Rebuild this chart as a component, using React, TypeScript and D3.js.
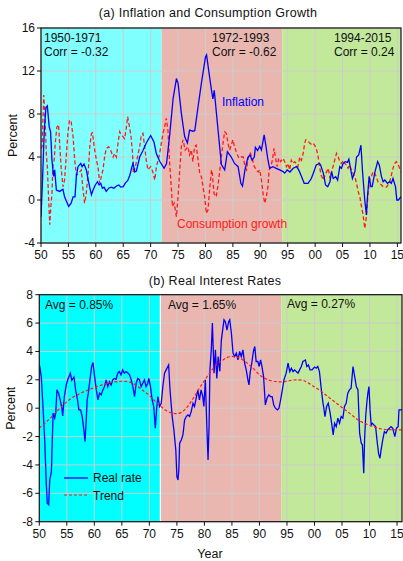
import React from "react";
import * as d3 from "d3";

// ---------- Data ----------
const yearTicks = [1950, 1955, 1960, 1965, 1970, 1975, 1980, 1985, 1990, 1995, 2000, 2005, 2010, 2015];
const topYTicks = [-4, 0, 4, 8, 12, 16];
const botYTicks = [-8, -6, -4, -2, 0, 2, 4, 6, 8];
const eras = [
  { start: 1950, end: 1972, label: "1950-1971", corr: "Corr = -0.32", avg: "Avg = 0.85%" },
  { start: 1972, end: 1994, label: "1972-1993", corr: "Corr = -0.62", avg: "Avg = 1.65%" },
  { start: 1994, end: 2016, label: "1994-2015", corr: "Corr = 0.24", avg: "Avg = 0.27%" },
];

const inflYears = [1950.0, 1950.25, 1950.6, 1950.9, 1951.15, 1951.5, 1951.75, 1952.0, 1952.3, 1952.5, 1952.8, 1953.4, 1954.0, 1954.3, 1955.05, 1955.5, 1955.85, 1956.2, 1956.45, 1956.75, 1957.25, 1957.5, 1957.85, 1958.27, 1958.6, 1958.9, 1959.2, 1959.5, 1959.9, 1960.3, 1960.6, 1960.9, 1961.2, 1961.5, 1961.9, 1962.35, 1962.8, 1963.3, 1963.75, 1964.2, 1964.55, 1965.0, 1965.4, 1965.8, 1966.2, 1966.6, 1966.8, 1967.1, 1967.4, 1968.0, 1968.6, 1969.2, 1970.0, 1970.6, 1971.05, 1971.65, 1972.45, 1972.9, 1973.5, 1974.1, 1974.7, 1975.0, 1975.6, 1976.2, 1976.7, 1977.1, 1977.7, 1978.05, 1978.65, 1979.25, 1980.0, 1980.2, 1980.65, 1981.1, 1981.35, 1981.6, 1982.2, 1982.9, 1983.5, 1984.0, 1984.7, 1985.3, 1985.95, 1986.45, 1986.75, 1987.2, 1987.7, 1988.1, 1988.5, 1988.9, 1989.1, 1989.5, 1989.9, 1990.2, 1990.7, 1991.0, 1991.4, 1991.7, 1992.3, 1992.9, 1993.55, 1994.15, 1994.45, 1994.9, 1995.4, 1996.0, 1996.6, 1997.0, 1997.5, 1998.0, 1998.7, 1999.3, 1999.6, 2000.2, 2000.8, 2001.0, 2001.5, 2001.9, 2002.3, 2002.7, 2003.0, 2003.3, 2003.75, 2004.1, 2004.5, 2004.8, 2005.1, 2005.5, 2005.9, 2006.15, 2006.5, 2006.8, 2007.25, 2007.55, 2007.95, 2008.35, 2008.65, 2009.05, 2009.35, 2009.5, 2009.85, 2010.15, 2010.4, 2010.9, 2011.4, 2011.7, 2012.1, 2012.4, 2012.7, 2013.2, 2013.6, 2013.9, 2014.2, 2014.65, 2014.9, 2015.2, 2015.66];
const inflValues = [-1.55, 1.5, 6.5, 8.6, 8.75, 6.8, 6.35, 3.7, 2.2, 2.8, 0.93, 0.8, 1.0, 0.3, -0.6, -0.3, 0.3, 0.3, 2.2, 3.1, 3.4, 3.1, 3.35, 2.8, 1.9, 1.15, 0.5, 0.93, 1.4, 1.7, 1.4, 1.55, 1.1, 1.2, 0.8, 1.1, 1.2, 1.1, 1.3, 1.4, 1.2, 1.25, 1.6, 1.8, 2.3, 3.1, 3.4, 2.6, 2.7, 4.0, 4.6, 5.3, 6.0, 5.4, 4.3, 3.6, 2.95, 3.4, 6.2, 9.46, 11.3, 10.85, 8.06, 5.9, 5.3, 6.5, 6.4, 6.45, 8.7, 10.85, 13.3, 13.5, 11.8, 10.2, 9.4, 10.2, 7.0, 3.3, 2.8, 4.5, 4.0, 3.4, 3.1, 1.55, 1.3, 2.8, 3.9, 4.2, 3.7, 4.0, 4.9, 4.6, 5.0, 4.65, 6.05, 5.1, 3.7, 2.95, 3.1, 2.95, 2.8, 2.64, 2.5, 2.8, 2.6, 2.95, 3.1, 2.8, 2.2, 1.55, 1.55, 2.0, 2.4, 3.26, 3.4, 3.26, 2.48, 1.4, 1.24, 1.7, 2.64, 2.0, 2.17, 1.86, 3.1, 2.95, 3.4, 3.57, 3.5, 3.8, 2.8, 2.0, 2.64, 4.0, 4.2, 5.1, 2.6, 0.0, -1.4, 0.0, 2.2, 1.24, 1.24, 2.6, 3.57, 3.26, 2.17, 1.7, 1.86, 1.55, 1.7, 1.55, 2.0, 1.24, 0.0, 0.0, 0.3];

const consYears = [1950.0, 1950.2, 1950.5, 1950.7, 1950.8, 1950.97, 1951.15, 1951.4, 1951.6, 1951.8, 1952.0, 1952.2, 1952.4, 1952.6, 1952.9, 1953.2, 1953.4, 1953.7, 1954.0, 1954.3, 1954.6, 1954.9, 1955.2, 1955.5, 1955.85, 1956.15, 1956.45, 1956.9, 1957.35, 1957.6, 1957.95, 1958.25, 1958.6, 1958.9, 1959.2, 1959.4, 1959.7, 1960.1, 1960.4, 1960.7, 1961.0, 1961.3, 1961.6, 1961.9, 1962.35, 1962.7, 1963.15, 1963.45, 1963.75, 1964.05, 1964.35, 1964.65, 1964.95, 1965.25, 1965.55, 1965.8, 1966.1, 1966.4, 1966.7, 1966.85, 1967.2, 1967.6, 1968.0, 1968.3, 1968.6, 1968.9, 1969.2, 1969.5, 1970.0, 1970.4, 1970.75, 1971.05, 1971.35, 1971.65, 1971.95, 1972.25, 1972.55, 1972.85, 1973.15, 1973.5, 1973.8, 1973.97, 1974.3, 1974.7, 1975.0, 1975.3, 1975.6, 1975.9, 1976.3, 1976.8, 1977.1, 1977.4, 1977.7, 1978.0, 1978.3, 1978.65, 1978.95, 1979.25, 1979.55, 1979.85, 1980.15, 1980.45, 1980.8, 1981.1, 1981.25, 1981.55, 1981.95, 1982.25, 1982.55, 1982.9, 1983.2, 1983.5, 1983.8, 1984.1, 1984.4, 1984.7, 1985.0, 1985.3, 1985.6, 1986.1, 1986.45, 1986.9, 1987.2, 1987.5, 1987.8, 1988.2, 1988.6, 1988.9, 1989.3, 1989.6, 1989.9, 1990.2, 1990.5, 1990.8, 1991.1, 1991.4, 1991.6, 1991.9, 1992.2, 1992.5, 1992.75, 1993.05, 1993.35, 1993.7, 1994.15, 1994.45, 1994.75, 1995.05, 1995.35, 1995.65, 1995.95, 1996.25, 1996.55, 1996.85, 1997.2, 1997.5, 1997.8, 1998.1, 1998.3, 1998.7, 1999.0, 1999.3, 1999.6, 1999.9, 2000.2, 2000.5, 2000.8, 2001.1, 2001.5, 2001.8, 2002.1, 2002.4, 2002.7, 2003.1, 2003.5, 2003.9, 2004.2, 2004.5, 2004.8, 2005.1, 2005.4, 2005.7, 2006.0, 2006.3, 2006.6, 2006.9, 2007.25, 2007.55, 2007.85, 2008.15, 2008.45, 2008.75, 2009.05, 2009.35, 2009.65, 2009.95, 2010.25, 2010.55, 2010.85, 2011.15, 2011.45, 2011.75, 2012.1, 2012.4, 2012.7, 2013.0, 2013.3, 2013.6, 2013.9, 2014.2, 2014.5, 2014.8, 2015.1, 2015.6];
const consValues = [4.8, 4.96, 9.77, 8.06, 6.8, 4.34, 3.1, 0.0, -2.3, -0.6, 0.6, 3.4, 3.7, 5.3, 6.8, 7.0, 5.3, 2.8, 1.24, 1.86, 4.0, 6.2, 7.44, 7.3, 5.9, 3.7, 2.3, 2.5, 2.8, 1.24, -0.3, 0.6, 2.5, 4.96, 6.2, 6.25, 4.96, 3.7, 3.1, 1.55, 2.2, 2.8, 4.0, 4.8, 4.96, 4.65, 4.0, 4.34, 4.0, 5.3, 6.35, 6.05, 5.9, 5.7, 6.67, 7.75, 6.9, 6.0, 4.34, 2.48, 3.1, 4.0, 4.96, 6.05, 6.2, 4.96, 3.7, 2.8, 3.1, 2.6, 1.86, 3.1, 3.7, 4.34, 5.3, 6.2, 6.8, 7.6, 6.5, 3.1, 0.93, -0.6, -0.3, -1.55, 0.3, 2.8, 4.96, 5.6, 4.65, 4.96, 4.2, 4.65, 3.57, 4.96, 5.1, 3.7, 2.48, 2.17, 1.24, 0.3, -1.24, -0.93, 1.24, 2.8, 2.48, 0.6, 0.3, 1.24, 2.48, 4.0, 5.3, 6.35, 6.2, 5.3, 4.65, 5.1, 5.6, 4.96, 4.5, 3.88, 4.0, 4.0, 3.1, 2.8, 4.0, 4.34, 3.7, 3.1, 2.8, 2.6, 2.8, 1.86, 0.6, -0.3, 0.3, 1.24, 2.8, 3.1, 3.7, 4.8, 4.0, 3.1, 3.88, 3.57, 3.88, 3.57, 3.1, 3.4, 2.8, 3.7, 3.4, 3.57, 3.4, 3.1, 4.0, 3.7, 4.3, 5.3, 5.6, 5.5, 5.3, 5.2, 5.3, 5.1, 4.8, 4.2, 3.1, 2.3, 1.86, 2.3, 2.64, 2.95, 2.0, 2.8, 3.57, 4.34, 4.03, 3.57, 3.4, 3.7, 3.4, 3.26, 2.95, 3.26, 2.8, 2.48, 2.17, 1.55, 0.8, 0.3, -0.6, -1.4, -2.64, -1.55, 0.6, 1.86, 2.17, 2.64, 2.48, 2.17, 1.7, 1.55, 1.4, 1.24, 1.2, 1.2, 1.4, 1.7, 2.3, 2.95, 3.4, 3.57, 3.4, 2.64];

const realYears = [1950.0, 1950.36, 1950.67, 1950.98, 1951.27, 1951.45, 1951.7, 1951.9, 1952.2, 1952.4, 1952.5, 1952.8, 1953.0, 1953.2, 1953.5, 1953.8, 1954.1, 1954.25, 1954.55, 1954.9, 1955.2, 1955.63, 1955.9, 1956.3, 1956.6, 1956.9, 1957.2, 1957.5, 1957.8, 1958.1, 1958.3, 1958.5, 1958.7, 1958.9, 1959.2, 1959.5, 1959.75, 1960.05, 1960.36, 1960.65, 1960.95, 1961.25, 1961.55, 1961.85, 1962.15, 1962.45, 1962.75, 1963.05, 1963.35, 1963.65, 1963.95, 1964.25, 1964.55, 1964.85, 1965.15, 1965.45, 1965.75, 1966.05, 1966.4, 1966.7, 1967.0, 1967.3, 1967.6, 1967.9, 1968.2, 1968.5, 1968.8, 1969.1, 1969.4, 1969.7, 1969.9, 1970.2, 1970.5, 1970.8, 1971.08, 1971.3, 1971.55, 1971.85, 1972.15, 1972.45, 1972.75, 1973.05, 1973.5, 1973.75, 1973.95, 1974.15, 1974.45, 1974.8, 1975.0, 1975.2, 1975.35, 1975.5, 1975.8, 1976.1, 1976.4, 1976.7, 1977.0, 1977.3, 1977.6, 1977.93, 1978.2, 1978.5, 1978.8, 1979.1, 1979.4, 1979.7, 1979.9, 1980.17, 1980.4, 1980.66, 1980.85, 1981.0, 1981.25, 1981.45, 1981.75, 1982.0, 1982.25, 1982.5, 1982.8, 1983.08, 1983.56, 1983.8, 1984.1, 1984.4, 1984.6, 1984.9, 1985.2, 1985.5, 1985.8, 1986.1, 1986.4, 1986.7, 1987.0, 1987.3, 1987.6, 1987.9, 1988.1, 1988.3, 1988.6, 1988.9, 1989.15, 1989.4, 1989.7, 1989.95, 1990.2, 1990.45, 1990.75, 1991.07, 1991.37, 1991.7, 1992.0, 1992.3, 1992.6, 1992.9, 1993.25, 1993.55, 1993.85, 1994.16, 1994.45, 1994.85, 1995.2, 1995.5, 1995.8, 1996.1, 1996.4, 1996.7, 1997.0, 1997.3, 1997.6, 1997.9, 1998.35, 1998.6, 1998.9, 1999.2, 1999.55, 2000.0, 2000.3, 2000.6, 2000.9, 2001.25, 2001.55, 2001.7, 2001.9, 2002.2, 2002.5, 2002.85, 2003.2, 2003.4, 2003.65, 2003.95, 2004.25, 2004.55, 2004.85, 2005.15, 2005.45, 2005.75, 2006.05, 2006.35, 2006.65, 2007.0, 2007.3, 2007.6, 2007.9, 2008.2, 2008.5, 2008.7, 2008.95, 2009.1, 2009.3, 2009.5, 2009.7, 2009.9, 2010.1, 2010.3, 2010.5, 2010.8, 2011.1, 2011.42, 2011.65, 2011.9, 2012.1, 2012.4, 2012.7, 2013.0, 2013.3, 2013.6, 2013.9, 2014.2, 2014.6, 2014.9, 2015.2, 2015.35, 2015.9];
const realValues = [3.1, 2.23, 0.1, -2.24, -5.3, -6.7, -6.8, -5.06, -4.47, -1.77, -0.35, -0.7, -0.3, 1.29, 1.05, 0.59, 0.0, -0.55, 0.82, 1.64, 2.04, 2.47, 1.97, 2.2, 1.29, 0.7, -0.12, -0.12, -0.59, -1.53, -2.35, -1.06, 0.59, 1.06, 2.0, 2.93, 3.22, 2.23, 1.29, 0.59, 1.06, 0.94, 1.29, 1.52, 2.0, 1.52, 1.87, 1.64, 2.0, 2.1, 2.04, 2.47, 2.58, 2.35, 2.7, 2.47, 2.58, 2.5, 2.35, 2.0, 1.52, 0.82, 1.76, 2.1, 2.0, 1.52, 1.76, 2.0, 1.52, 1.76, 2.1, 1.52, 0.59, 0.12, -1.41, -0.12, 0.82, 0.12, 0.35, 1.52, 2.47, 2.7, 3.05, 1.29, 0.35, -0.59, -1.53, -2.94, -4.82, -5.06, -4.35, -2.47, -2.24, -1.88, -0.82, -0.59, -0.47, -0.59, -0.24, 0.35, 0.12, 0.7, 1.29, 0.59, 1.29, 0.82, 0.12, 2.0, -0.82, -3.65, -1.18, 2.7, 4.11, 6.0, 2.47, 4.11, 2.1, 3.64, 2.6, 4.82, 6.23, 6.1, 5.5, 6.1, 6.23, 5.3, 3.88, 3.64, 3.88, 3.4, 4.0, 3.64, 4.11, 3.17, 2.7, 2.0, 1.64, 2.47, 3.17, 4.0, 4.35, 3.29, 3.29, 2.94, 3.4, 2.94, 2.23, 0.23, 0.7, 0.94, 0.82, 0.82, 0.23, 0.0, -0.12, 0.0, 0.59, 1.29, 2.0, 2.47, 3.17, 2.58, 2.82, 2.58, 2.7, 2.58, 2.47, 2.7, 2.94, 3.29, 3.4, 2.94, 3.05, 2.7, 2.7, 2.9, 2.82, 2.94, 2.58, 1.29, 0.35, 0.0, -0.59, 0.12, 0.35, -0.35, -1.3, -1.88, -1.06, -1.3, -0.7, -1.06, -0.59, -0.7, 0.12, 0.35, 1.06, 1.29, 1.41, 2.94, 2.23, 1.52, 1.29, -1.76, -2.47, -2.58, -4.58, -2.23, -0.59, 0.35, 1.06, 1.52, -0.12, -1.18, -1.06, -1.18, -1.3, -2.47, -3.2, -3.53, -2.94, -2.23, -1.65, -1.76, -1.53, -1.41, -1.3, -1.41, -2.0, -1.41, -1.3, -0.12, -0.12];

const trendYears = [1950, 1951, 1952, 1953, 1954, 1955, 1956, 1957, 1958, 1959, 1960, 1961, 1962, 1963, 1964, 1965, 1966, 1967, 1968, 1969, 1970, 1971, 1972, 1973, 1974, 1975, 1976, 1977, 1978, 1979, 1980, 1981, 1982, 1983, 1984, 1985, 1986, 1987, 1988, 1989, 1990, 1991, 1992, 1993, 1994, 1995, 1996, 1997, 1998, 1999, 2000, 2001, 2002, 2003, 2004, 2005, 2006, 2007, 2008, 2009, 2010, 2011, 2012, 2013, 2014, 2015, 2015.9];
const trendValues = [-1.4, -1.06, -0.7, -0.3, 0.1, 0.45, 0.75, 0.95, 1.15, 1.3, 1.45, 1.6, 1.72, 1.8, 1.87, 1.9, 1.88, 1.75, 1.5, 1.2, 0.9, 0.5, 0.15, -0.15, -0.33, -0.38, -0.25, 0.15, 0.7, 1.35, 1.95, 2.5, 3.0, 3.3, 3.55, 3.65, 3.6, 3.4, 3.1, 2.75, 2.35, 2.1, 1.95, 1.88, 1.85, 1.9, 1.98, 2.0, 1.95, 1.75, 1.5, 1.25, 0.95, 0.65, 0.35, 0.05, -0.25, -0.55, -0.85, -1.05, -1.2, -1.35, -1.45, -1.5, -1.52, -1.53, -1.53];

// ---------- Styling ----------
const FONT = "'Liberation Sans', Arial, Helvetica, sans-serif";
const topColors = ["#80ffff", "#eab7b0", "#c2e99a"];
const botColors = ["#00ffff", "#eab7b0", "#c2e99a"];
const GRID = "#cccccc";

type Pt = [number, number];
const zip = (xs: number[], ys: number[]): Pt[] => xs.map((x, i) => [x, ys[i]]);
const fmtYear = (y: number) => String(y % 100).padStart(2, "0");

function Panel(props: {
  left: number; right: number; top: number; bottom: number;
  xDomain: [number, number]; yDomain: [number, number]; yTicks: number[];
  colors: string[]; title: string; titleX: number; titleY: number; labelRight: number;
  children: (x: d3.ScaleLinear<number, number>, y: d3.ScaleLinear<number, number>) => React.ReactNode;
  id: string;
}) {
  const { left, right, top, bottom, xDomain, yDomain, yTicks, colors, title, titleX, titleY, labelRight, id } = props;
  const x = d3.scaleLinear().domain(xDomain).range([left, right]);
  const y = d3.scaleLinear().domain(yDomain).range([bottom, top]);
  return (
    <g>
      <defs>
        <clipPath id={id}>
          <rect x={left} y={top} width={right - left} height={bottom - top} />
        </clipPath>
      </defs>
      <text x={titleX} y={titleY} textAnchor="middle" fontSize={12.5} fontFamily={FONT} fill="#111" letterSpacing={0.3}>{title}</text>
      {eras.map((e, i) => (
        <rect key={i} x={x(e.start)} y={top} width={Math.min(x(e.end), right) - x(e.start)} height={bottom - top} fill={colors[i]} />
      ))}
      {yearTicks.map((t) => (
        <line key={"gx" + t} x1={x(t)} x2={x(t)} y1={top} y2={bottom} stroke={GRID} strokeWidth={1} />
      ))}
      {yTicks.map((t) => (
        <line key={"gy" + t} x1={left} x2={right} y1={y(t)} y2={y(t)} stroke={GRID} strokeWidth={1} />
      ))}
      <g clipPath={`url(#${id})`}>{props.children(x, y)}</g>
      <rect x={left} y={top} width={right - left} height={bottom - top} fill="none" stroke="#111" strokeWidth={1.2} />
      {yTicks.map((t) => (
        <g key={"ty" + t}>
          <line x1={left - 4} x2={left} y1={y(t)} y2={y(t)} stroke="#111" />
          <text x={labelRight} y={y(t) + 4} textAnchor="end" fontSize={12} fontFamily={FONT} fill="#111">{t}</text>
        </g>
      ))}
      {yearTicks.map((t) => (
        <g key={"tx" + t}>
          <line x1={x(t)} x2={x(t)} y1={bottom} y2={bottom + 4} stroke="#111" />
          <text x={x(t)} y={bottom + 16} textAnchor="middle" fontSize={12} fontFamily={FONT} fill="#111">{fmtYear(t)}</text>
        </g>
      ))}
      <text transform={`translate(${left - 24},${(top + bottom) / 2}) rotate(-90)`} textAnchor="middle" fontSize={12.5} fontFamily={FONT} fill="#111">Percent</text>
    </g>
  );
}

export default function App() {
  const infl = zip(inflYears, inflValues);
  const cons = zip(consYears, consValues);
  const real = zip(realYears, realValues);
  const trend = zip(trendYears, trendValues);

  return (
    <svg width={403} height={561} style={{ position: "absolute", left: 0, top: 0, background: "#fff" }}>
      <Panel id="clipTop" left={41} right={401} top={28} bottom={243} xDomain={[1950, 2015.66]} yDomain={[-4, 16]}
        yTicks={topYTicks} colors={topColors} title="(a) Inflation and Consumption Growth" titleX={208} titleY={17} labelRight={35}>
        {(x, y) => {
          const line = d3.line<Pt>().x((d) => x(d[0])).y((d) => y(d[1]));
          return (
            <g>
              <path d={line(cons) || ""} fill="none" stroke="#ff1a1a" strokeWidth={1.3} strokeDasharray="4,2.5" />
              <path d={line(infl) || ""} fill="none" stroke="#0000ff" strokeWidth={1.3} />
            </g>
          );
        }}
      </Panel>
      {/* top annotations */}
      <g fontFamily={FONT} fontSize={12} fill="#111">
        <text x={44} y={42}>{eras[0].label}</text>
        <text x={44} y={56}>{eras[0].corr}</text>
        <text x={212} y={42}>{eras[1].label}</text>
        <text x={212} y={56}>{eras[1].corr}</text>
        <text x={334} y={42}>{eras[2].label}</text>
        <text x={334} y={56}>{eras[2].corr}</text>
        <text x={222} y={106} fill="#0000ff">Inflation</text>
        <text x={177} y={228} fill="#ff1a1a">Consumption growth</text>
      </g>

      <Panel id="clipBot" left={39.3} right={402} top={294.7} bottom={521.7} xDomain={[1950, 2015.9]} yDomain={[-8, 8]}
        yTicks={botYTicks} colors={botColors} title="(b) Real Interest Rates" titleX={215} titleY={285} labelRight={33}>
        {(x, y) => {
          const line = d3.line<Pt>().x((d) => x(d[0])).y((d) => y(d[1]));
          const smooth = d3.line<Pt>().x((d) => x(d[0])).y((d) => y(d[1])).curve(d3.curveMonotoneX);
          return (
            <g>
              <line x1={x(1972)} x2={x(1972)} y1={y(8)} y2={y(-8)} stroke="#fff" strokeWidth={1.2} />
              <path d={line(real) || ""} fill="none" stroke="#0000ff" strokeWidth={1.3} />
              <path d={smooth(trend) || ""} fill="none" stroke="#ff1a1a" strokeWidth={1.2} strokeDasharray="3,2" />
            </g>
          );
        }}
      </Panel>
      <g fontFamily={FONT} fontSize={12} fill="#111">
        <text x={45} y={309}>{eras[0].avg}</text>
        <text x={168} y={309}>{eras[1].avg}</text>
        <text x={287} y={308}>{eras[2].avg}</text>
        <line x1={64} x2={88} y1={478} y2={478} stroke="#0000ff" strokeWidth={1.3} />
        <text x={93} y={482}>Real rate</text>
        <line x1={64} x2={88} y1={495} y2={495} stroke="#ff1a1a" strokeWidth={1.2} strokeDasharray="3,2" />
        <text x={93} y={499.5}>Trend</text>
        <text x={210} y={558} textAnchor="middle" fontSize={12.5}>Year</text>
      </g>
    </svg>
  );
}
